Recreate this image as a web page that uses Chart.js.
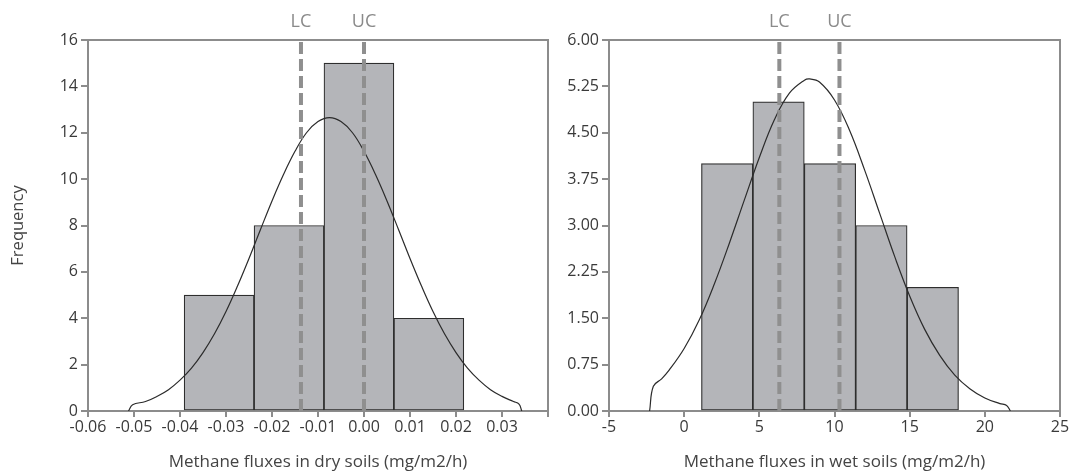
<!DOCTYPE html>
<html lang="en">
<head>
<meta charset="UTF-8">
<title>Methane fluxes histograms</title>
<script src="https://cdn.jsdelivr.net/npm/chart.js"></script>
<style>
  body { margin: 0; background: #fff; }
  #wrap { position: relative; width: 1072px; height: 476px; }
  #dryChart { position: absolute; left: 0; top: 0; }
  #wetChart { position: absolute; left: 556px; top: 0; }
</style>
</head>
<body>
<div id="wrap">
  <canvas id="dryChart" width="556" height="476"></canvas>
  <canvas id="wetChart" width="516" height="476"></canvas>
</div>
<script>
// ---- dry soils ----
const dryBinEdges = [-0.0391, -0.0239, -0.0087, 0.0065, 0.0217];
const dryCounts = [5, 8, 15, 4];
const dryLC = -0.0137;
const dryUC = 0.0;
// fitted normal curve
const dryCurveX = [-0.0512, -0.0503, -0.0475, -0.045, -0.0425, -0.04, -0.0375, -0.035, -0.0325, -0.03,
  -0.0275, -0.025, -0.0225, -0.02, -0.0175, -0.015, -0.0125, -0.01, -0.0075, -0.005, -0.0025, 0,
  0.0025, 0.005, 0.0075, 0.01, 0.0125, 0.015, 0.0175, 0.02, 0.0225, 0.025, 0.0275, 0.03, 0.0325, 0.0337, 0.0343];
const dryCurveY = [0, 0.27, 0.41, 0.63, 0.92, 1.33, 1.85, 2.52, 3.33, 4.29,
  5.39, 6.58, 7.83, 9.06, 10.2, 11.2, 12.0, 12.48, 12.65, 12.48, 12.0, 11.2,
  10.2, 9.06, 7.83, 6.58, 5.39, 4.29, 3.33, 2.52, 1.85, 1.33, 0.92, 0.63, 0.41, 0.3, 0];
const dryXAxis = [-0.06, 0.04, 0.01];
const dryYAxis = [0, 16, 2];

// ---- wet soils ----
const wetBinEdges = [1.15, 4.57, 7.99, 11.41, 14.83, 18.25];
const wetCounts = [4, 5, 4, 3, 2];
const wetLC = 6.33;
const wetUC = 10.33;
const wetCurveX = [-2.3, -2.05, -1.5, -1, 0, 1, 2, 3, 4, 5, 6, 7, 8, 8.35, 9, 10, 11, 12, 13, 14, 15, 16, 17, 18, 19, 20, 21, 21.45, 21.7];
const wetCurveY = [0, 0.4, 0.52, 0.66, 1.01, 1.47, 2.05, 2.71, 3.41, 4.10, 4.71, 5.14, 5.35, 5.37, 5.32, 5.03, 4.54, 3.90,
  3.20, 2.50, 1.86, 1.32, 0.90, 0.58, 0.36, 0.21, 0.12, 0.09, 0];
const wetXAxis = [-5, 25, 5];
const wetYAxis = [0, 6, 0.75];

Chart.defaults.font.family = "'Open Sans', 'Noto Sans', sans-serif";
Chart.defaults.font.size = 16;
Chart.defaults.color = '#3a3a3a';

const axisGrey = '#8c8c8c';

// LC / UC labels above the plot and the top/right frame
const limitLabels = {
  id: 'limitLabels',
  afterDraw(chart, args, opts) {
    const ctx = chart.ctx;
    const area = chart.chartArea;
    const xs = chart.scales.x;
    ctx.save();
    ctx.strokeStyle = axisGrey;
    ctx.lineWidth = 2;
    ctx.beginPath();
    ctx.moveTo(area.left, area.top);
    ctx.lineTo(area.right, area.top);
    ctx.lineTo(area.right, area.bottom);
    ctx.stroke();
    ctx.font = "18px 'Open Sans', sans-serif";
    ctx.fillStyle = '#8a8a8a';
    ctx.textAlign = 'center';
    ctx.textBaseline = 'middle';
    ctx.fillText('LC', xs.getPixelForValue(opts.lc), 22);
    ctx.fillText('UC', xs.getPixelForValue(opts.uc), 22);
    ctx.restore();
  }
};

function makeHistogram(canvasId, c) {
  const bars = c.counts.map((n, i) => ({ x: (c.edges[i] + c.edges[i + 1]) / 2, y: n }));
  const curve = c.curveX.map((x, i) => ({ x: x, y: c.curveY[i] }));
  const dashed = (v) => ({
    type: 'line',
    data: [{ x: v, y: c.yAxis[0] }, { x: v, y: c.yAxis[1] }],
    borderColor: '#8f8f8f',
    borderWidth: 4,
    borderDash: [12, 5],
    pointRadius: 0,
    order: 1
  });

  return new Chart(document.getElementById(canvasId), {
    type: 'bar',
    data: {
      datasets: [
        dashed(c.lc),
        dashed(c.uc),
        {
          type: 'line',
          data: curve,
          borderColor: '#2b2b2b',
          borderWidth: 1.2,
          pointRadius: 0,
          tension: 0.4,
          order: 2
        },
        {
          type: 'bar',
          data: bars,
          backgroundColor: '#b4b5b9',
          borderColor: '#2e2e2e',
          borderWidth: 1.2,
          borderSkipped: false,
          barThickness: 'flex',
          categoryPercentage: 1,
          barPercentage: 1,
          order: 3
        }
      ]
    },
    options: {
      responsive: false,
      animation: false,
      layout: { padding: { top: 40, right: c.padRight, left: 0, bottom: 0 } },
      plugins: {
        legend: { display: false },
        tooltip: { enabled: false },
        limitLabels: { lc: c.lc, uc: c.uc }
      },
      scales: {
        x: {
          type: 'linear',
          min: c.xAxis[0],
          max: c.xAxis[1],
          offset: false,
          afterFit: s => { s.height = 65; },
          border: { display: true, color: axisGrey, width: 2 },
          grid: { offset: false, drawOnChartArea: false, drawTicks: true, tickLength: 6, color: axisGrey, lineWidth: 2 },
          ticks: {
            stepSize: c.xAxis[2],
            autoSkip: false,
            maxRotation: 0,
            padding: 1,
            callback: c.xLabel
          },
          title: {
            display: true,
            text: c.xTitle,
            color: '#444',
            font: { size: 17 },
            padding: { top: 0, bottom: 4 }
          }
        },
        y: {
          min: c.yAxis[0],
          max: c.yAxis[1],
          afterFit: s => { s.width = c.yWidth; },
          border: { display: true, color: axisGrey, width: 2 },
          grid: { drawOnChartArea: false, drawTicks: true, tickLength: 7, color: axisGrey, lineWidth: 2 },
          ticks: {
            stepSize: c.yAxis[2],
            padding: 3,
            callback: c.yLabel
          },
          title: {
            display: !!c.yTitle,
            text: c.yTitle || '',
            color: '#444',
            font: { size: 16.5 },
            padding: { top: 8, bottom: 0 }
          }
        }
      }
    },
    plugins: [limitLabels]
  });
}

makeHistogram('dryChart', {
  edges: dryBinEdges, counts: dryCounts, lc: dryLC, uc: dryUC,
  curveX: dryCurveX, curveY: dryCurveY,
  xAxis: dryXAxis, yAxis: dryYAxis,
  xTitle: 'Methane fluxes in dry soils (mg/m2/h)',
  yTitle: 'Frequency',
  yWidth: 88, padRight: 8,
  xLabel: v => {
    if (Math.abs(v - 0.04) < 1e-9) return '';
    if (Math.abs(v) < 1e-9) return '0.00';
    return v.toFixed(2);
  },
  yLabel: v => String(v)
});

makeHistogram('wetChart', {
  edges: wetBinEdges, counts: wetCounts, lc: wetLC, uc: wetUC,
  curveX: wetCurveX, curveY: wetCurveY,
  xAxis: wetXAxis, yAxis: wetYAxis,
  xTitle: 'Methane fluxes in wet soils (mg/m2/h)',
  yTitle: null,
  yWidth: 53, padRight: 12,
  xLabel: v => String(v),
  yLabel: v => v.toFixed(2)
});
</script>
</body>
</html>
